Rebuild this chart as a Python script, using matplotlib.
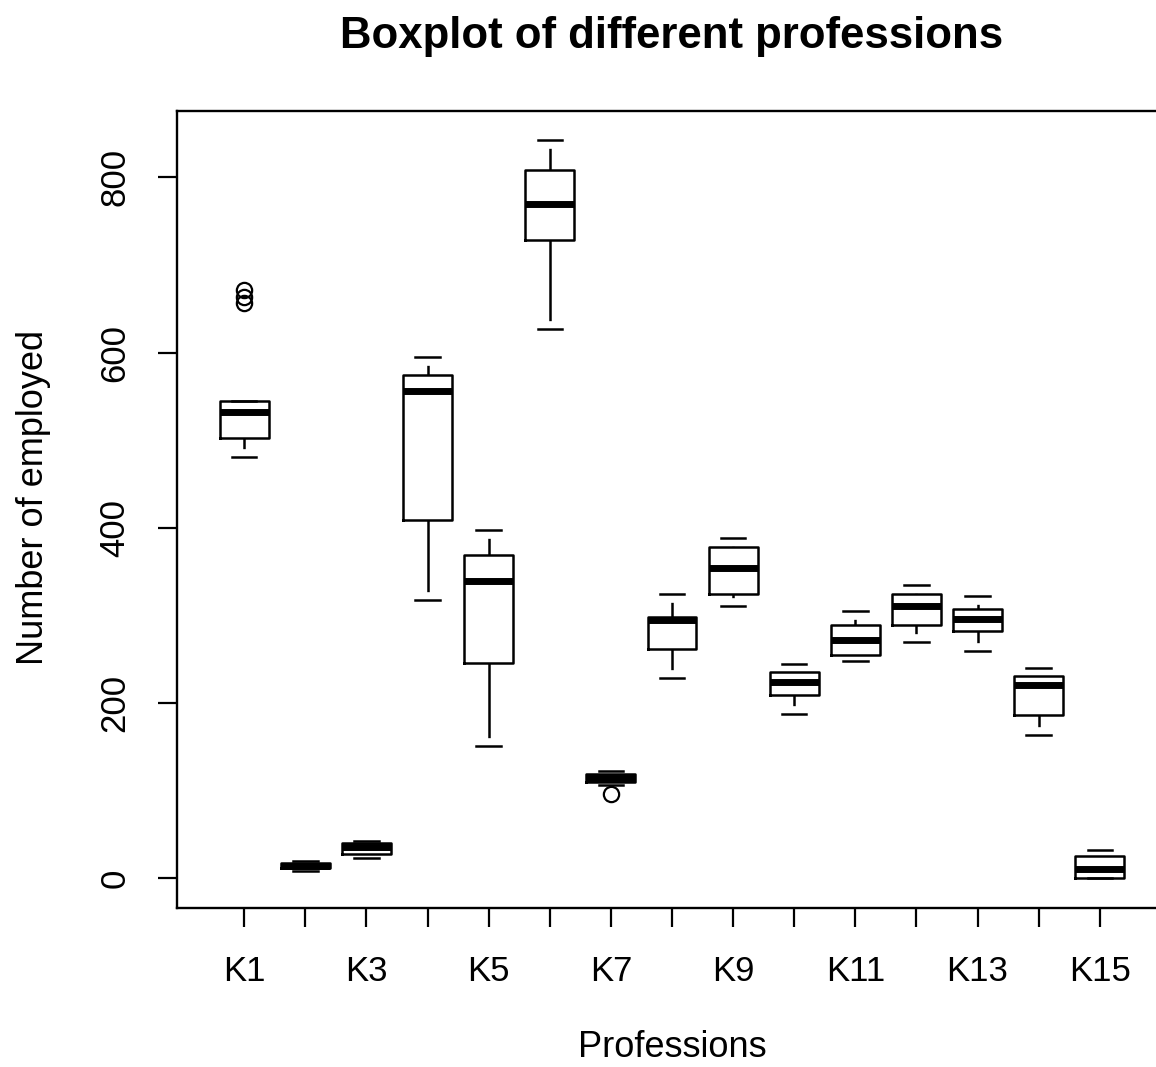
import matplotlib
matplotlib.use('Agg')
import matplotlib.pyplot as plt

# ---- data ----
categories = ['K1', 'K2', 'K3', 'K4', 'K5', 'K6', 'K7', 'K8', 'K9', 'K10',
              'K11', 'K12', 'K13', 'K14', 'K15']
q1 = [502, 11.4, 27.5, 409.5, 246, 728, 109.6, 262, 325, 209.6, 255.4, 289, 282, 187, 0]
medians = [532, 14.3, 35.4, 556, 339.5, 769.5, 114.5, 294.5, 354, 224, 272.5, 311, 295.8, 221, 11]
q3 = [545, 17.7, 40.2, 574, 369, 808, 119.4, 298, 378, 235.6, 289, 325, 307.8, 231, 25.8]
whislo = [481, 8.3, 23.1, 318, 151, 627, 106.2, 228.7, 310.5, 187.6, 247.8, 270, 260, 163.6, 0]
whishi = [545, 20.5, 42.5, 595, 397, 842, 122.2, 325, 388, 245, 305.6, 335, 322.7, 240.5, 33]
fliers = [[671, 663, 657], [], [], [], [], [], [96.6], [], [], [], [], [], [], [], []]
yticks = [0, 200, 400, 600, 800]
tick_labels = [c if i % 2 == 0 else '' for i, c in enumerate(categories)]

plt.rcParams['font.family'] = ['Liberation Sans', 'DejaVu Sans']
plt.rcParams['lines.scale_dashes'] = False

fig = plt.figure(figsize=(11.56, 10.67), dpi=100)
ax = fig.add_axes([0.1531, 0.1490, 0.8564, 0.7470])

stats = [dict(label=c, q1=a, med=m, q3=b, whislo=lo, whishi=hi, fliers=f)
         for c, a, m, b, lo, hi, f in zip(categories, q1, medians, q3, whislo, whishi, fliers)]
positions = list(range(1, len(categories) + 1))

bp = ax.bxp(stats, positions=positions, widths=0.8, capwidths=0.4, showfliers=True,
            boxprops=dict(color='black', linewidth=1.8),
            medianprops=dict(color='black', linewidth=5, solid_capstyle='butt'),
            whiskerprops=dict(color='black', linewidth=1.8, linestyle=(2000, (2000, 6))),
            capprops=dict(color='black', linewidth=1.8),
            flierprops=dict(marker='o', markerfacecolor='none', markeredgecolor='black',
                            markersize=11, markeredgewidth=1.6, linestyle='none'))
# draw whiskers from cap toward box so the dash gap sits next to the cap
for w in bp['whiskers']:
    w.set_ydata(w.get_ydata()[::-1])

ax.set_xlim(-0.1, 16.1)
ax.set_ylim(-33.7, 875.6)
ax.set_xticks(positions)
ax.set_xticklabels(tick_labels)
ax.set_yticks(yticks)
ax.set_yticklabels([str(v) for v in yticks], rotation=90, va='center')
ax.tick_params(length=14, width=1.6, labelsize=25, direction='out')
ax.tick_params(axis='x', pad=20)
ax.tick_params(axis='y', pad=19)
for s in ax.spines.values():
    s.set_linewidth(1.7)

ax.set_title('Boxplot of different professions', fontsize=31.5, fontweight='bold', pad=45)
ax.set_xlabel('Professions', fontsize=26, labelpad=30)
ax.set_ylabel('Number of employed', fontsize=26, labelpad=34, y=0.515)

fig.savefig('out.png', dpi=100)
